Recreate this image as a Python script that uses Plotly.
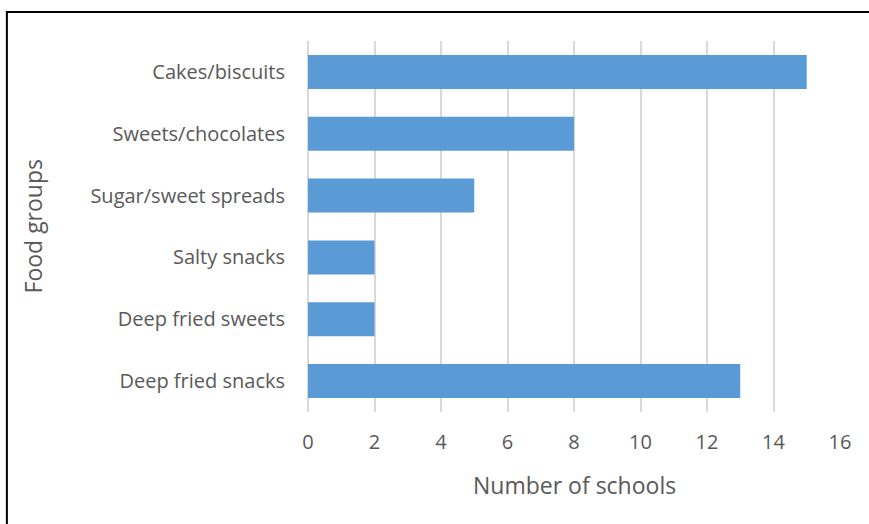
import plotly.graph_objects as go

food_groups = ["Cakes/biscuits", "Sweets/chocolates", "Sugar/sweet spreads",
               "Salty snacks", "Deep fried sweets", "Deep fried snacks"]
schools = [15, 8, 5, 2, 2, 13]
x_ticks = [0, 2, 4, 6, 8, 10, 12, 14, 16]

FONT = "Open Sans"
TEXT = "#595959"
BAR = "#5B9BD5"
GRID = "#D9D9D9"

fig = go.Figure(go.Bar(
    x=schools,
    y=food_groups,
    orientation="h",
    marker=dict(color=BAR, line=dict(width=0)),
))

fig.update_layout(
    width=869,
    height=524,
    margin=dict(l=308, r=29, t=41, b=112),
    paper_bgcolor="white",
    plot_bgcolor="white",
    bargap=0.45,
    showlegend=False,
    font=dict(family=FONT, color=TEXT, size=20),
    xaxis=dict(
        range=[0, 16],
        tickvals=x_ticks,
        showgrid=True,
        gridcolor=GRID,
        gridwidth=1.5,
        zeroline=True,
        zerolinecolor=GRID,
        zerolinewidth=1.5,
        showline=False,
        ticks="",
        ticklabelstandoff=16,
        tickfont=dict(size=20, color=TEXT),
        fixedrange=True,
    ),
    yaxis=dict(
        categoryorder="array",
        categoryarray=food_groups[::-1],
        showgrid=False,
        showline=False,
        ticks="",
        ticklabelstandoff=22,
        tickfont=dict(size=20, color=TEXT),
        fixedrange=True,
    ),
    annotations=[
        dict(text="Number of schools", xref="paper", yref="paper",
             x=0.5, y=-0.197, xanchor="center", yanchor="middle",
             showarrow=False, font=dict(size=23, color=TEXT, family=FONT)),
        dict(text="Food groups", xref="paper", yref="paper",
             x=-0.517, y=0.5, xanchor="center", yanchor="middle", textangle=-90,
             showarrow=False, font=dict(size=23, color=TEXT, family=FONT)),
    ],
    shapes=[
        dict(type="rect", xref="paper", yref="paper",
             x0=-0.566, x1=1.3, y0=-0.4, y1=1.078,
             line=dict(color="black", width=2), fillcolor="rgba(0,0,0,0)",
             layer="above"),
    ],
)

fig.write_html("out.html")
